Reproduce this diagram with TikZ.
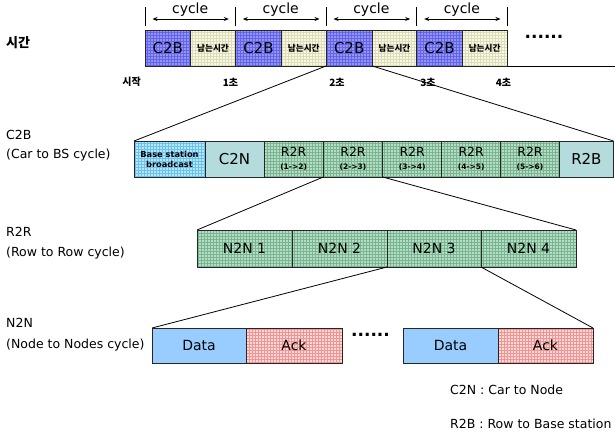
\documentclass[tikz,border=0pt]{standalone}
\usepackage{fontspec}
\setmainfont{DejaVu Sans}
\newfontfamily\kr{Noto Sans CJK KR}
\usetikzlibrary{patterns,arrows.meta}
\definecolor{cbfill}{HTML}{9494FF}
\definecolor{cbgrid}{HTML}{6464E6}
\definecolor{yfill}{HTML}{FAFAE4}
\definecolor{ygrid}{HTML}{DCDCBA}
\definecolor{bsfill}{HTML}{B4E8FF}
\definecolor{bsgrid}{HTML}{6CC2EA}
\definecolor{teal}{HTML}{B4DCDC}
\definecolor{gfill}{HTML}{B4DEC4}
\definecolor{ggrid}{HTML}{7AB492}
\definecolor{dblue}{HTML}{99CCFF}
\definecolor{pfill}{HTML}{FFD8D8}
\definecolor{pgrid}{HTML}{F09494}
\newcommand\fsz[2]{\fontsize{#1}{#2}\selectfont}
\begin{document}
\begin{tikzpicture}[x=1pt,y=-1pt,
  box/.style={draw=black!85, line width=0.7pt, inner sep=0pt, outer sep=0pt, anchor=north west, align=center},
  gridbox/.style 2 args={box, preaction={fill=#1}, pattern=grid, pattern color=#2},
  c2bbox/.style={gridbox={cbfill}{cbgrid}, minimum height=36pt, font=\fsz{15}{18}},
  restbox/.style={gridbox={yfill}{ygrid}, minimum height=36pt, font=\kr\bfseries\fsz{8.6}{10}},
  rowa/.style={minimum height=36pt},
  r2rbox/.style={gridbox={gfill}{ggrid}, rowa, font=\fsz{12.5}{14}},
  tealbox/.style={box, fill=teal, rowa, font=\fsz{15}{18}},
  n2nbox/.style={gridbox={gfill}{ggrid}, minimum height=37pt, font=\fsz{14}{16}},
  databox/.style={box, fill=dblue, minimum height=35pt, font=\fsz{14}{16}},
  ackbox/.style={gridbox={pfill}{pgrid}, minimum height=35pt, font=\fsz{14}{16}},
  lab/.style={anchor=west, inner sep=0pt, font=\fsz{12.5}{15}},
  timelab/.style={inner sep=0pt, font=\kr\bfseries\fsz{10}{11}},
  dots/.style={inner sep=0pt, font=\bfseries\fsz{17}{17}},
  conn/.style={line width=0.8pt, black},
  cyc/.style={line width=0.8pt, {Stealth[length=5pt,width=4pt]}-{Stealth[length=5pt,width=4pt]}}
]
\useasboundingbox (0,0) rectangle (615,434);

% ---------- top time row ----------
\node[lab, font=\kr\bfseries\fsz{13}{15}] (tlab) at (6,43) {시간};
\node[c2bbox, minimum width=45.7pt] (t1) at (145,30) {C2B};
\node[restbox, minimum width=44.6pt] (t2) at (t1.north east) {남는시간};
\node[c2bbox, minimum width=46.2pt] (t3) at (t2.north east) {C2B};
\node[restbox, minimum width=44.5pt] (t4) at (t3.north east) {남는시간};
\node[c2bbox, minimum width=46.3pt] (t5) at (t4.north east) {C2B};
\node[restbox, minimum width=44.4pt] (t6) at (t5.north east) {남는시간};
\node[c2bbox, minimum width=45.6pt] (t7) at (t6.north east) {C2B};
\node[restbox, minimum width=44.7pt] (t8) at (t7.north east) {남는시간};
\coordinate (tend) at (615,66);
\draw[line width=0.8pt] (t8.south east) -- (tend);
\node[dots] (tdots) at (544,37) {......};

\foreach \x [count=\i] in {145,235.3,326,416.7,507} {
  \coordinate (mt\i) at (\x,7);
  \coordinate (mb\i) at (\x,26);
  \draw[line width=0.8pt] (mt\i) -- (mb\i);
}
\foreach \a/\b [count=\i] in {145/235.3,235.3/326,326/416.7,416.7/507} {
  \coordinate (cl\i) at (\a+7.5,19);
  \coordinate (cr\i) at (\b-6.5,19);
  \draw[cyc] (cl\i) -- (cr\i);
  \node[anchor=base, inner sep=0pt, font=\fsz{14}{16}] (cy\i) at ({(\a+\b)/2},13) {cycle};
}

\node[timelab] (s0) at (131.5,82) {시작};
\node[timelab] (s1) at (230.5,82) {1초};
\node[timelab] (s2) at (337,82) {2초};
\node[timelab] (s3) at (428,82) {3초};
\node[timelab] (s4) at (503.5,82) {4초};

% ---------- C2B row ----------
\node[lab] (c2blab) at (6,135) {C2B};
\node[lab] (c2bsub) at (6,155) {(Car to BS cycle)};
\node[gridbox={bsfill}{bsgrid}, rowa, minimum width=71pt, font=\bfseries\fsz{8.3}{10}] (bsb) at (134,141) {Base station\\broadcast};
\node[tealbox, minimum width=59pt] (c2n) at (bsb.north east) {C2N};
\node[r2rbox, minimum width=59.3pt] (r1) at (c2n.north east) {R2R\\[-1.5pt]{\bfseries\fsz{7.5}{8}(1->2)}};
\node[r2rbox, minimum width=59.4pt] (r2) at (r1.north east) {R2R\\[-1.5pt]{\bfseries\fsz{7.5}{8}(2->3)}};
\node[r2rbox, minimum width=59pt] (r3) at (r2.north east) {R2R\\[-1.5pt]{\bfseries\fsz{7.5}{8}(3->4)}};
\node[r2rbox, minimum width=59pt] (r4) at (r3.north east) {R2R\\[-1.5pt]{\bfseries\fsz{7.5}{8}(4->5)}};
\node[r2rbox, minimum width=58.6pt] (r5) at (r4.north east) {R2R\\[-1.5pt]{\bfseries\fsz{7.5}{8}(5->6)}};
\node[tealbox, minimum width=54.2pt] (r2b) at (r5.north east) {R2B};

\draw[conn] (t5.south west) -- (bsb.north west);
\draw[conn] (t5.south east) -- (r2b.north east);

% ---------- R2R row ----------
\node[lab] (r2rlab) at (6,232) {R2R};
\node[lab] (r2rsub) at (6,253) {(Row to Row cycle)};
\node[n2nbox, minimum width=95pt] (n1) at (197,230) {N2N 1};
\node[n2nbox, minimum width=95pt] (n2) at (n1.north east) {N2N 2};
\node[n2nbox, minimum width=94pt] (n3) at (n2.north east) {N2N 3};
\node[n2nbox, minimum width=95pt] (n4) at (n3.north east) {N2N 4};

\draw[conn] (r2.south west) -- (n1.north west);
\draw[conn] (r2.south east) -- (n4.north east);

% ---------- N2N row ----------
\node[lab] (n2nlab) at (6,323) {N2N};
\node[lab] (n2nsub) at (6,345) {(Node to Nodes cycle)};
\node[databox, minimum width=94pt] (d1) at (152,328) {Data};
\node[ackbox, minimum width=96pt] (a1) at (d1.north east) {Ack};
\node[dots] (ndots) at (370.5,334.5) {......};
\node[databox, minimum width=95pt] (d2) at (403,328) {Data};
\node[ackbox, minimum width=95pt] (a2) at (d2.north east) {Ack};

\draw[conn] (n3.south west) -- (d1.north west);
\draw[conn] (n3.south east) -- (a2.north east);

% ---------- legend ----------
\node[lab] (leg1) at (450,390) {C2N : Car to Node};
\node[lab] (leg2) at (450,424) {R2B : Row to Base station};
\end{tikzpicture}
\end{document}
